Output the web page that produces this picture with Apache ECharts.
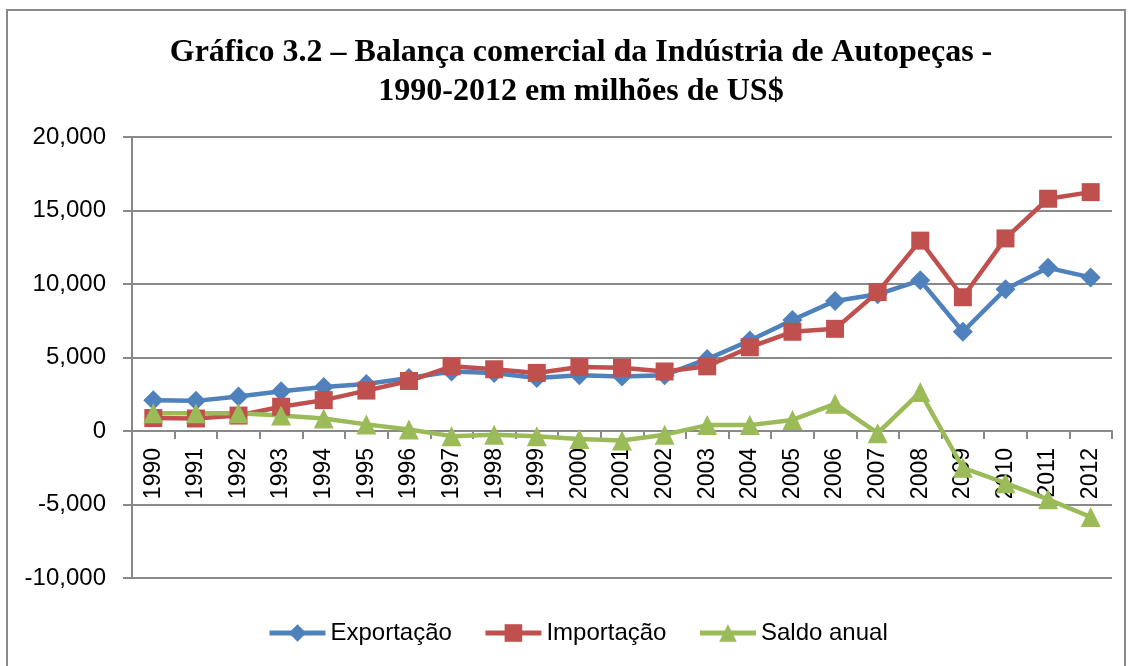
<!DOCTYPE html>
<html>
<head>
<meta charset="utf-8">
<script src="https://cdn.jsdelivr.net/npm/echarts@6/dist/echarts.min.js"></script>
<style>
  html, body { margin: 0; padding: 0; background: #fff; }
  #chart { width: 1129px; height: 666px; }
</style>
</head>
<body>
<div id="chart"></div>
<script>
// anos (eixo x)
const anos = ["1990", "1991", "1992", "1993", "1994", "1995", "1996", "1997", "1998", "1999", "2000",
  "2001", "2002", "2003", "2004", "2005", "2006", "2007", "2008", "2009", "2010", "2011", "2012"];

// valores em milhões de US$
const exportacao = [2100, 2050, 2350, 2700, 3000, 3200, 3600, 4050, 3950, 3600, 3800,
  3700, 3800, 4900, 6150, 7550, 8850, 9300, 10250, 6750, 9650, 11100, 10450];
const importacao = [880, 850, 1050, 1650, 2100, 2750, 3400, 4400, 4200, 3950, 4350,
  4300, 4050, 4400, 5700, 6750, 6950, 9450, 12950, 9100, 13100, 15800, 16250];
const saldoAnual = [1200, 1200, 1200, 1050, 850, 450, 100, -350, -250, -350, -550,
  -650, -250, 400, 400, 750, 1850, -150, 2650, -2500, -3550, -4650, -5850];

const eixoY = { min: -10000, max: 20000, interval: 5000 };

const cinza = "#898989";
const fonteEixo = "Liberation Sans";

// área do gráfico
const gradeTopo = 137, gradeBase = 88, altura = 666;
const alturaPlot = altura - gradeTopo - gradeBase;
// deslocamento do eixo x até o valor 0 (rótulos junto à linha do zero)
const deslocZero = -alturaPlot * (0 - eixoY.min) / (eixoY.max - eixoY.min);

const chart = echarts.init(document.getElementById("chart"));

function serie(nome, dados, cor, simbolo, tamanho) {
  return {
    name: nome,
    type: "line",
    data: dados,
    symbol: simbolo,
    symbolSize: tamanho,
    itemStyle: { color: cor },
    lineStyle: { color: cor, width: 4.5 },
    animation: false
  };
}

chart.setOption({
  animation: false,
  title: {
    text: "Gráfico 3.2 – Balança comercial da Indústria de Autopeças -\n1990-2012 em milhões de US$",
    left: 576,
    top: 28,
    textAlign: "center",
    textStyle: {
      fontFamily: "Liberation Serif",
      fontWeight: "bold",
      fontSize: 32,
      lineHeight: 39,
      color: "#000"
    }
  },
  graphic: [{
    type: "rect",
    shape: { x: 7, y: 10, width: 1118, height: 700 },
    style: { fill: "none", stroke: cinza, lineWidth: 2 },
    silent: true
  }],
  legend: {
    left: 262,
    top: 616,
    itemWidth: 56,
    itemHeight: 22,
    itemGap: 31,
    lineStyle: { width: 5 },
    textStyle: { fontFamily: fonteEixo, fontSize: 24, color: "#000" },
    data: ["Exportação", "Importação", "Saldo anual"]
  },
  grid: {
    left: 132,
    right: 17,
    top: gradeTopo,
    bottom: gradeBase,
    containLabel: false
  },
  xAxis: {
    type: "category",
    data: anos,
    boundaryGap: true,
    offset: deslocZero,
    axisLine: { onZero: false, lineStyle: { color: cinza, width: 2 } },
    axisTick: { show: true, interval: 0, length: 8, lineStyle: { color: cinza, width: 2 } },
    axisLabel: {
      interval: 0,
      rotate: 90,
      margin: 17,
      fontFamily: fonteEixo,
      fontSize: 23,
      color: "#000"
    },
    splitLine: { show: false }
  },
  yAxis: {
    type: "value",
    min: eixoY.min,
    max: eixoY.max,
    interval: eixoY.interval,
    axisLine: { show: true, lineStyle: { color: cinza, width: 2 } },
    axisTick: { show: true, length: 9, lineStyle: { color: cinza, width: 2 } },
    axisLabel: {
      margin: 26,
      fontFamily: fonteEixo,
      fontSize: 24,
      color: "#000",
      formatter: v => v.toLocaleString("en-US")
    },
    splitLine: { show: true, lineStyle: { color: cinza, width: 2 } }
  },
  series: [
    serie("Exportação", exportacao, "#4F81BD", "diamond", 20),
    serie("Importação", importacao, "#C0504D", "rect", 18),
    serie("Saldo anual", saldoAnual, "#9BBB59", "triangle", 20)
  ]
});
</script>
</body>
</html>
